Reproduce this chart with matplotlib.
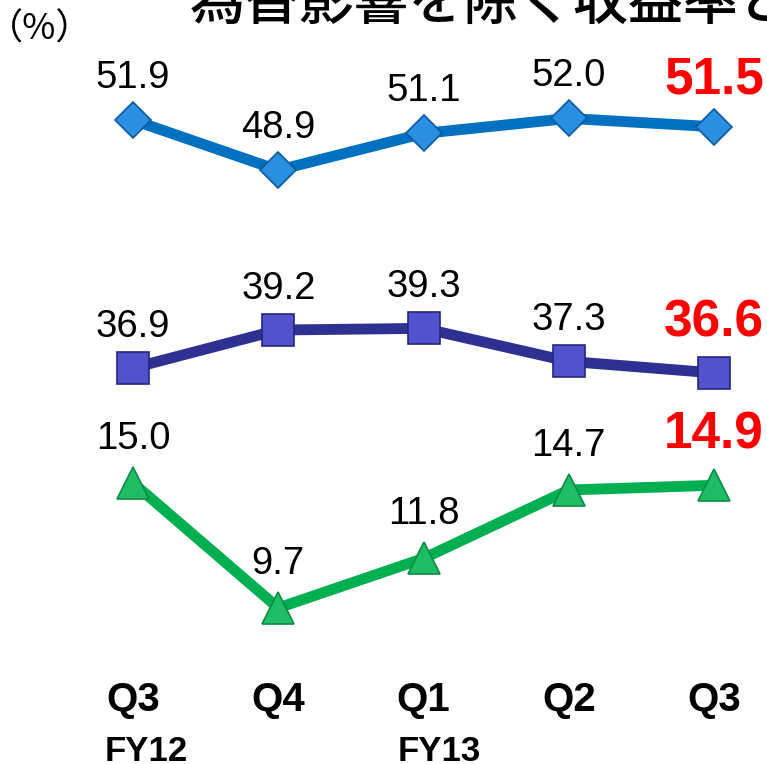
import matplotlib
matplotlib.use("Agg")
import matplotlib.pyplot as plt

quarters = ["Q3", "Q4", "Q1", "Q2", "Q3"]
fiscal_years = ["FY12", "", "FY13", "", ""]
top_values = [51.9, 48.9, 51.1, 52.0, 51.5]
mid_values = [36.9, 39.2, 39.3, 37.3, 36.6]
low_values = [15.0, 9.7, 11.8, 14.7, 14.9]
title_text = "為替影響を除く収益率と"
unit_text = "（%）"

W, H = 767, 764
fig = plt.figure(figsize=(W / 100, H / 100), dpi=100)
fig.patch.set_facecolor("white")

xlim = (-0.916, 4.365)
series = [
    (top_values, (13.34, 59.09), "#0070C0", "D", "#2A8FE0", "#0B5A9E", 18.5, 42, 47),
    (mid_values, (12.90, 59.20), "#2E3192", "s", "#5252CC", "#262680", 23, 41, 50),
    (low_values, (3.08, 35.48), "#00B050", "^", "#1FBE66", "#0A8A45", 23, 44, 50),
]

x = list(range(len(quarters)))
for vals, ylim, lc, mk, mfc, mec, ms, off, off_last in series:
    ax = fig.add_axes([0, 0, 1, 1])
    ax.set_xlim(*xlim)
    ax.set_ylim(*ylim)
    ax.axis("off")
    ax.patch.set_alpha(0)
    ax.plot(x, vals, color=lc, lw=7.8, marker=mk, markersize=ms,
            markerfacecolor=mfc, markeredgecolor=mec, markeredgewidth=1.2,
            solid_capstyle="butt", zorder=3)
    for i, v in enumerate(vals):
        last = i == len(vals) - 1
        ax.annotate(f"{v:.1f}", (i, v), xytext=(0, off_last if last else off),
                    textcoords="offset pixels", ha="center", va="center",
                    fontsize=37 if last else 27.5,
                    fontweight="bold" if last else "normal",
                    color="#FF0000" if last else "black",
                    family=["Liberation Sans", "DejaVu Sans"], zorder=5)

axl = fig.add_axes([0, 0, 1, 1])
axl.set_xlim(*xlim)
axl.set_ylim(0, H)
axl.axis("off")
axl.patch.set_alpha(0)
x_left_px = [105, None, 398, None, None]
for i, q in enumerate(quarters):
    axl.text(i, H - 700, q, ha="center", va="center", fontsize=29, fontweight="bold",
             family=["Liberation Sans", "DejaVu Sans"])
    if fiscal_years[i]:
        fig.text(x_left_px[i] / W, 1 - 761 / H, fiscal_years[i], ha="left", va="baseline",
                 fontsize=25, fontweight="bold", family=["Liberation Sans", "DejaVu Sans"])

fig.text(40 / W, 1 - 30 / H, unit_text, ha="center", va="center", fontsize=26,
         family=["Noto Sans CJK JP", "DejaVu Sans"])
fig.text(190 / W, 1 - 3 / H, title_text, ha="left", va="center", fontsize=39.5,
         family=["Noto Sans CJK JP", "DejaVu Sans"], fontweight="medium")

fig.savefig("out.png", dpi=100, facecolor="white")
